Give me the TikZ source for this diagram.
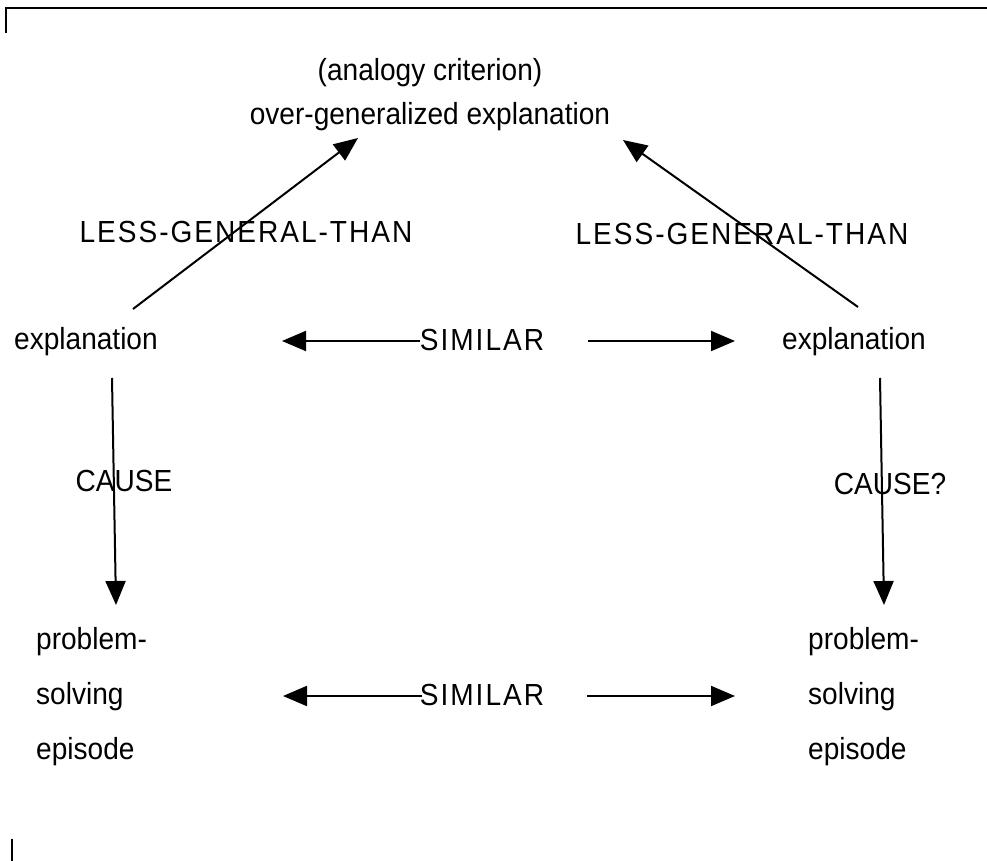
\documentclass[tikz,border=0pt]{standalone}
\usepackage{fontspec}
\setmainfont{Liberation Sans}[FakeStretch=0.92]
\newfontfamily\spacedcaps{Liberation Sans}[FakeStretch=0.92,LetterSpace=6.5]
\usetikzlibrary{arrows.meta}
\begin{document}
\begin{tikzpicture}[x=1pt,y=-1pt,
  lbl/.style={inner sep=0pt,font=\fontsize{30.5}{55}\selectfont},
  caps/.style={lbl,font=\spacedcaps\fontsize{30.5}{55}\selectfont},
  conn/.style={line width=2pt,-{Triangle[length=24pt,width=20pt]}},
  frame/.style={line width=2pt}]
\useasboundingbox (0,0) rectangle (987,861);
% partial frame
\draw[frame] (6,33) -- (6,8) -- (987,8);
\draw[frame] (12,839) -- (12,861);

% text nodes
\node[lbl] (crit) at (430,73) {(analogy criterion)};
\node[lbl] (gen) at (430,117) {over-generalized explanation};
\node[caps] (lgtL) at (246,232) {LESS-GENERAL-THAN};
\node[caps] (lgtR) at (742,234) {LESS-GENERAL-THAN};
\node[lbl,anchor=west] (expL) at (14,342) {explanation};
\node[lbl,anchor=west] (expR) at (782,342) {explanation};
\node[caps] (simU) at (482,340) {SIMILAR};
\node[lbl] (causeL) at (124,481) {CAUSE};
\node[lbl] (causeR) at (890,484) {CAUSE?};
\node[lbl,anchor=west,align=left] (psL) at (36,697) {problem-\\solving\\episode};
\node[lbl,anchor=west,align=left] (psR) at (808,697) {problem-\\solving\\episode};
\node[caps] (simD) at (482,695) {SIMILAR};

% connector end points
\coordinate (gL) at (358,138);
\coordinate (gR) at (623,140);
\coordinate (eLt) at (133,309);
\coordinate (eRt) at (858,307);
\coordinate (eLb) at (112,378);
\coordinate (eRb) at (880,378);
\coordinate (pL) at (116,605);
\coordinate (pR) at (884,605);
\coordinate (suL) at (420,341);
\coordinate (suR) at (588,341);
\coordinate (aUL) at (282,341);
\coordinate (aUR) at (735,341);
\coordinate (sdL) at (422,696);
\coordinate (sdR) at (587,696);
\coordinate (aDL) at (283,696);
\coordinate (aDR) at (735,696);

% connectors
\draw[conn] (eLt) -- (gL);
\draw[conn] (eRt) -- (gR);
\draw[conn] (eLb) -- (pL);
\draw[conn] (eRb) -- (pR);
\draw[conn] (suL) -- (aUL);
\draw[conn] (suR) -- (aUR);
\draw[conn] (sdL) -- (aDL);
\draw[conn] (sdR) -- (aDR);
\end{tikzpicture}
\end{document}
